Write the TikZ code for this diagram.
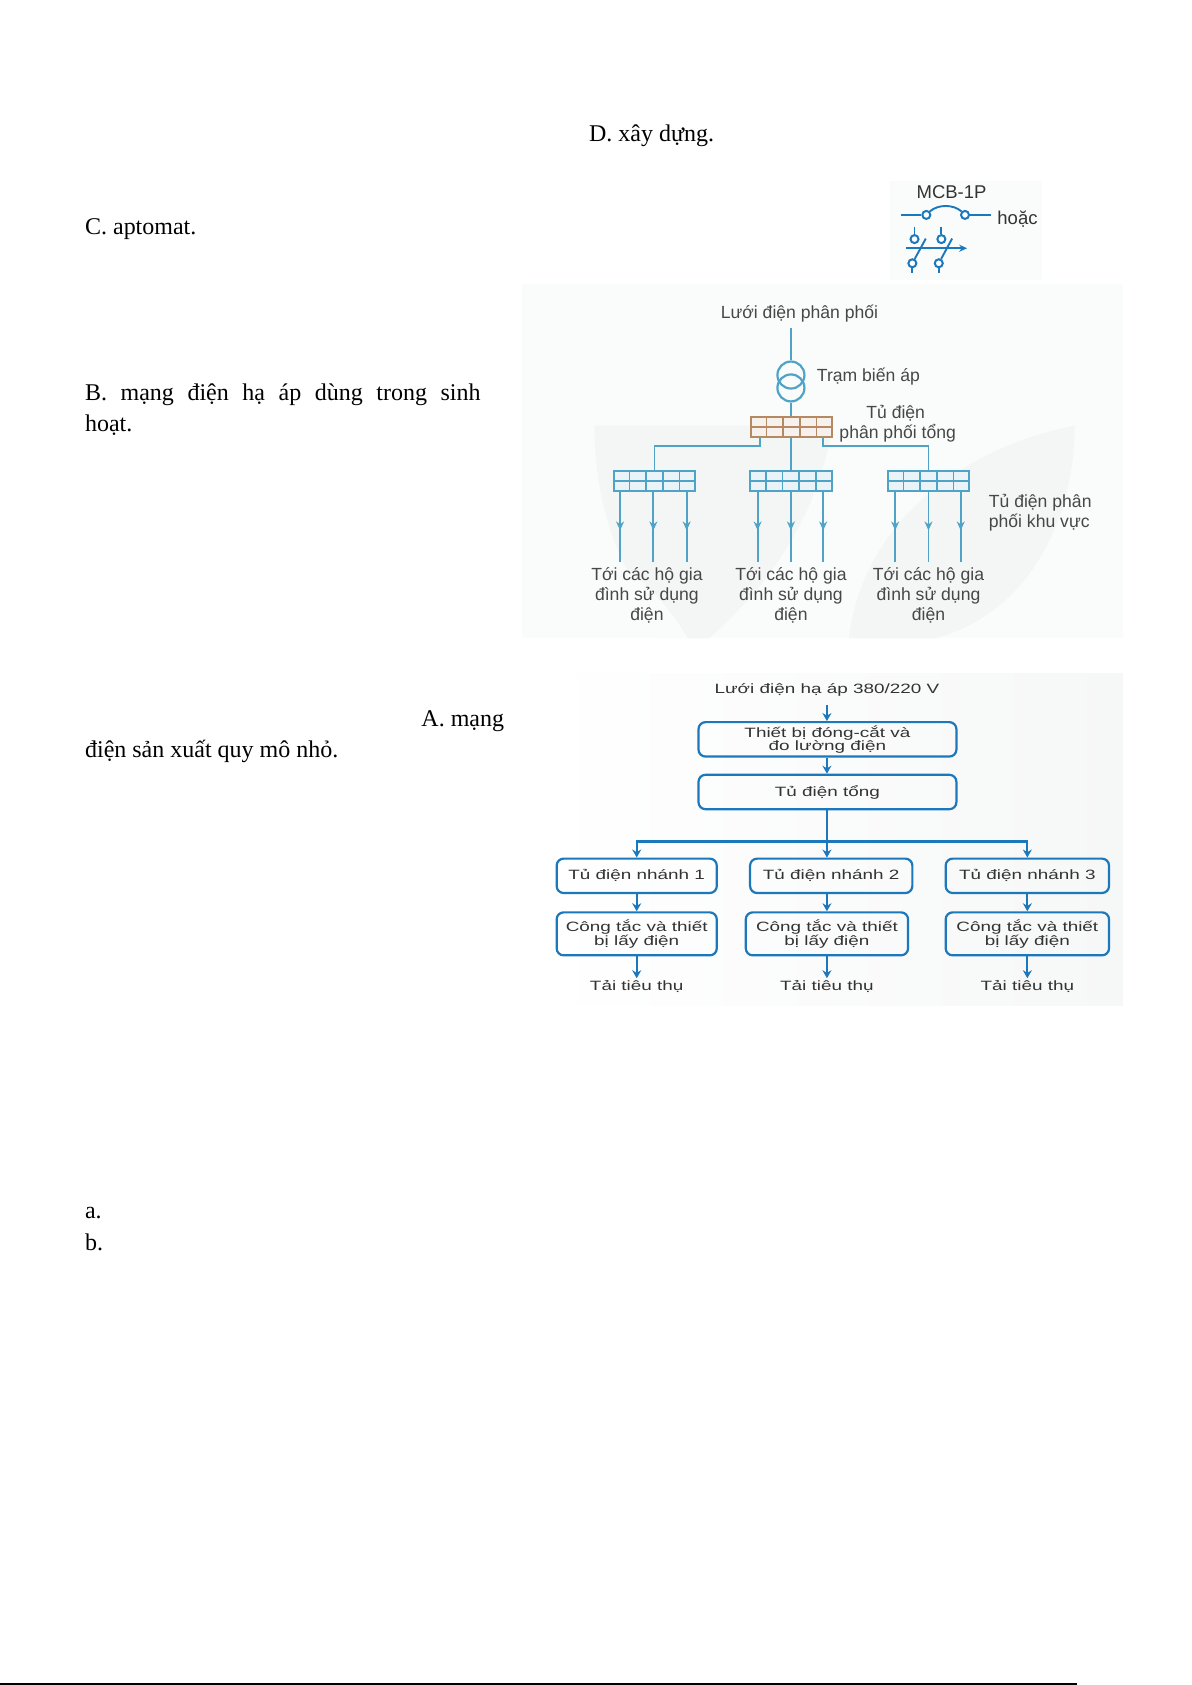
\documentclass[tikz,border=0pt]{standalone}
\usepackage{fontspec}
\setmainfont{Liberation Serif}
\newfontfamily\dsans{Liberation Sans}
\newfontfamily\wsans[FakeStretch=1.4]{Liberation Sans}
\usetikzlibrary{arrows.meta,calc,positioning,decorations.markings}
\definecolor{flow}{HTML}{1B78BC}
\definecolor{cyanline}{HTML}{4FA3C7}
\definecolor{brownline}{HTML}{B58A63}
\definecolor{panelbg}{HTML}{FAFBFB}
\definecolor{panelright}{HTML}{F6F7F7}
\definecolor{wmarkc}{HTML}{F4F5F5}
\tikzset{
  body/.style={font=\fontsize{24}{31}\selectfont,inner sep=0pt,anchor=base west,text=black},
  flowbox/.style={draw=flow,line width=2.2pt,rounded corners=7pt,inner sep=0pt,font=\wsans\fontsize{13.5}{14}\selectfont,align=center,text=black!80},
  flowlabel/.style={inner sep=0pt,font=\wsans\fontsize{13.5}{14}\selectfont,text=black!80},
  flowarrow/.style={draw=flow,line width=2.2pt,-{Stealth[length=8pt,width=9pt]}},
  netlabel/.style={inner sep=0pt,font=\dsans\fontsize{17.6}{20.4}\selectfont,align=center,text=black!72},
  netline/.style={draw=cyanline,line width=1.8pt},
  cubicle/.style={rectangle,inner sep=0pt,minimum width=76pt*1.0749,minimum height=19pt*1.0749,line width=1.8pt},
  feeder/.style={netline,decoration={markings,mark=at position 0.55 with {\arrow{Stealth[length=9pt,width=8pt]}}},postaction={decorate}},
  junction/.style={circle,draw=flow,line width=2pt,fill=white,minimum size=8pt,inner sep=0pt},
  sym/.style={draw=flow,line width=1.9pt},
  winding/.style={circle,draw=cyanline,line width=2.2pt,minimum size=27pt,inner sep=0pt},
}
\newcommand{\cubiclegrid}[4]{% name, x, y, colour
  \node[cubicle,draw=#4,fill=#4!12] (#1) at (#2,#3) {};
  \foreach \k in {1,2,3,4}{\draw[#4,line width=1.6pt] ($(#1.north west)!\k/5!(#1.north east)$) -- ($(#1.south west)!\k/5!(#1.south east)$);}
  \draw[#4,line width=1.6pt] (#1.west) -- (#1.east);
}
\begin{document}
\begin{tikzpicture}[x=1.0749pt,y=-1.0749pt]
\useasboundingbox (0,0) rectangle (1109,1568);
\fill[white] (0,0) rectangle (1109,1568);
% page text
\node[body] (td) at (548,132) {D. xây dựng.};
\node[body] (tc) at (79,218) {C. aptomat.};
\node[body,anchor=north west,text width=368*1.0749pt,align=justify] (tb) at (79,357) {B. mạng điện hạ áp dùng trong sinh\linebreak hoạt.};
\node[body] (ta) at (392,676) {A. mạng};
\node[body] (ta2) at (79,705) {điện sản xuất quy mô nhỏ.};
\node[body] (la) at (79,1134) {a.};
\node[body] (lb) at (79,1164) {b.};
% panels
\fill[panelbg] (828,168) rectangle (970,261);
\fill[panelbg] (486,264) rectangle (1045,594);
\shade[left color=white,right color=panelright] (503,627) rectangle (1045,936);
% watermark
\fill[wmarkc] (553,396) -- (775,396) .. controls (760,480) and (720,540) .. (660,594) -- (640,594) .. controls (585,560) and (553,480) .. (553,396) -- cycle;
\fill[panelbg] (565,520) .. controls (590,530) and (620,560) .. (640,594) -- (615,594) .. controls (600,565) and (580,540) .. (565,520) -- cycle;
\fill[wmarkc] (1000,396) .. controls (1000,480) and (960,570) .. (870,594) -- (790,594) .. controls (800,500) and (880,420) .. (1000,396) -- cycle;
% MCB symbol
\node[inner sep=0pt,font=\dsans\fontsize{18.5}{20}\selectfont,text=black!80] (mcb) at (885.5,179) {MCB-1P};
\node[inner sep=0pt,font=\dsans\fontsize{18.5}{20}\selectfont,text=black!80,anchor=west] (hoac) at (928,204) {hoặc};
\node[junction] (j1) at (862,200) {};
\node[junction] (j2) at (898,200) {};
\coordinate (mL) at (838,200);
\coordinate (mR) at (922,200);
\draw[sym] (mL) -- (j1);
\draw[sym] (j2) -- (mR);
\draw[sym] (j1.north east) .. controls (873,190) and (887,190) .. (j2.north west);
\node[junction] (u1) at (851,222.5) {};
\node[junction] (u2) at (876,222.5) {};
\node[junction] (d1) at (849,245) {};
\node[junction] (d2) at (873.6,245) {};
\coordinate (ut1) at (851,211); \coordinate (ut2) at (876,211);
\coordinate (dt1) at (849,254); \coordinate (dt2) at (873.6,254);
\coordinate (ds1) at (861.5,222); \coordinate (ds2) at (886,222);
\coordinate (aL) at (843.5,231); \coordinate (aR) at (900,231);
\draw[sym] (ut1) -- (u1); \draw[sym] (ut2) -- (u2);
\draw[sym] (d1) -- (dt1); \draw[sym] (d2) -- (dt2);
\draw[sym] (ds1) -- (d1); \draw[sym] (ds2) -- (d2);
\draw[sym,-{Stealth[length=8pt,width=7pt]}] (aL) -- (aR);
% distribution network
\node[netlabel] (grid) at (744,291.5) {Lưới điện phân phối};
\coordinate (gridend) at (736,305);
\node[winding] (tr1) at (736,349) {};
\node[winding] (tr2) at (736,361) {};
\node[netlabel,anchor=west] (trlab) at (760,350) {Trạm biến áp};
\cubiclegrid{main}{736.5}{397.5}{brownline}
\cubiclegrid{r1}{609}{447.5}{cyanline}
\cubiclegrid{r2}{736}{447.5}{cyanline}
\cubiclegrid{r3}{864}{447.5}{cyanline}
\node[netlabel,anchor=west,align=center] (mainlab) at (781,394.5) {\hspace*{-4pt}Tủ điện\\phân phối tổng};
\node[netlabel,anchor=west,align=left] (rlab) at (920,477) {Tủ điện phân\\phối khu vực};
\draw[netline] (gridend) -- (tr1.north);
\draw[netline] (tr2.south) -- (main.north -| tr2.south);
\draw[netline] ($(main.south west)!0.12!(main.south east)$) |- ($(r1.north)+(0,-22)$) -- (r1.north);
\draw[netline] ($(main.south west)!0.88!(main.south east)$) |- ($(r3.north)+(0,-22)$) -- (r3.north);
\draw[netline] (main.south -| r2.north) -- (r2.north);
\foreach \rn/\cx in {r1/602,r2/736,r3/864}{
  \node[netlabel] (lab\rn) at (\cx,554) {Tới các hộ gia\\đình sử dụng\\điện};
}
\foreach \rn/\dx in {r1/-32,r1/-1,r1/30,r2/-31,r2/0,r2/30,r3/-31,r3/0,r3/30}{
  \coordinate (tip) at ($(\rn.south)+(\dx,65)$);
  \draw[feeder] ($(\rn.south)+(\dx,0)$) -- (tip);
}
% low voltage flow chart
\node[flowlabel] (lv) at (769.5,642) {Lưới điện hạ áp 380/220 V};
\node[flowbox,minimum width=240*1.0749pt,minimum height=32*1.0749pt] (dev) at (770,688) {Thiết bị đóng-cắt và\\[-.5pt]đo lường điện};
\node[flowbox,minimum width=240*1.0749pt,minimum height=32*1.0749pt] (tong) at (770,737) {Tủ điện tổng};
\node[flowbox,minimum width=149*1.0749pt,minimum height=32*1.0749pt] (n1) at (592.5,815) {Tủ điện nhánh 1};
\node[flowbox,minimum width=151*1.0749pt,minimum height=32*1.0749pt] (n2) at (773.5,815) {Tủ điện nhánh 2};
\node[flowbox,minimum width=152*1.0749pt,minimum height=32*1.0749pt] (n3) at (956,815) {Tủ điện nhánh 3};
\node[flowbox,minimum width=149*1.0749pt,minimum height=40*1.0749pt] (c1) at (592.5,869) {Công tắc và thiết\\[-.5pt]bị lấy điện};
\node[flowbox,minimum width=151*1.0749pt,minimum height=40*1.0749pt] (c2) at (769.5,869) {Công tắc và thiết\\[-.5pt]bị lấy điện};
\node[flowbox,minimum width=152*1.0749pt,minimum height=40*1.0749pt] (c3) at (956,869) {Công tắc và thiết\\[-.5pt]bị lấy điện};
\node[flowlabel] (t1) at (592.5,918) {Tải tiêu thụ};
\node[flowlabel] (t2) at (769.5,918) {Tải tiêu thụ};
\node[flowlabel] (t3) at (956,918) {Tải tiêu thụ};
\coordinate (lvend) at (769.5,656);
\draw[flowarrow] (lvend) -- (dev.north -| lvend);
\draw[flowarrow] (dev.south -| lvend) -- (tong.north -| lvend);
\draw[flowarrow] (tong.south -| lvend) -- (n2.north -| lvend);
\coordinate (bus) at (769.5,783);
\draw[flowarrow] (bus) -| (n1.north);
\draw[flowarrow] (bus) -| (n3.north);
\draw[flowarrow] (n1.south) -- (c1.north);
\draw[flowarrow] (n2.south -| c2.north) -- (c2.north);
\draw[flowarrow] (n3.south) -- (c3.north);
\draw[flowarrow,shorten >=2pt] (c1.south) -- (t1.north);
\draw[flowarrow,shorten >=2pt] (c2.south) -- (t2.north);
\draw[flowarrow,shorten >=2pt] (c3.south) -- (t3.north);
% bottom rule
\coordinate (ruleL) at (0,1567);
\coordinate (ruleR) at (1002,1567);
\draw[black,line width=1.8pt] (ruleL) -- (ruleR);
\end{tikzpicture}
\end{document}
